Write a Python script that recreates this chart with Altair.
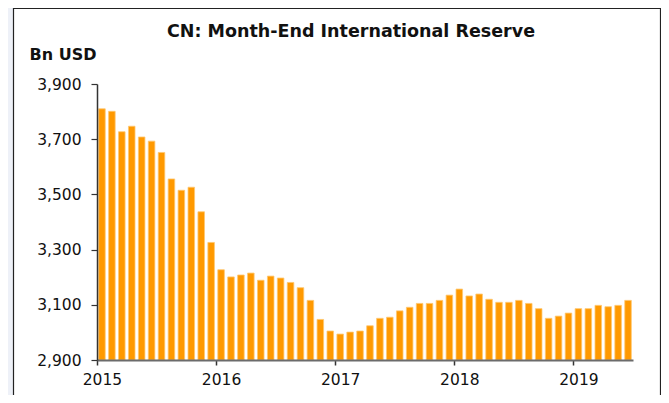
import altair as alt
import pandas as pd

years = [2015, 2016, 2017, 2018, 2019]
months = [f"{y}-{m:02d}" for y in years for m in range(1, 13)][:54]
values = [3810, 3801, 3727, 3747, 3708, 3693, 3652, 3556, 3515, 3526, 3437, 3326,
          3227, 3201, 3208, 3215, 3189, 3204, 3197, 3181, 3162, 3116, 3047, 3005,
          2994, 3001, 3005, 3024, 3051, 3055, 3078, 3091, 3105, 3105, 3116, 3135,
          3157, 3132, 3139, 3120, 3109, 3109, 3116, 3105, 3086, 3051, 3059, 3070,
          3086, 3086, 3098, 3093, 3098, 3116]
y_ticks = [2900, 3100, 3300, 3500, 3700, 3900]
year_ticks = [f"{y}-01" for y in years]
title_text = "CN: Month-End International Reserve"
unit_text = "Bn USD"

W, H = 536, 276
step = W / len(months)
FONT = "DejaVu Sans"

df = pd.DataFrame({"month": months, "value": values})

frame = alt.Chart(pd.DataFrame({"a": [0]})).mark_rect(
    fill="white", stroke="#222222", strokeWidth=1.2
).encode(
    x=alt.value(-83.5), x2=alt.value(563.5),
    y=alt.value(-75.5), y2=alt.value(330)
)

bars = alt.Chart(df).mark_bar(
    color="#FF9900", stroke="#FFC870", strokeWidth=0.8
).encode(
    x=alt.X("month:O",
            scale=alt.Scale(paddingInner=0.34, paddingOuter=0.17),
            axis=alt.Axis(values=year_ticks, labelExpr="slice(datum.value, 0, 4)",
                          title=None, labelAngle=0, bandPosition=0.5,
                          tickOffset=-step / 2, labelOffset=step / 2,
                          domainColor="#6b6b6b", domainWidth=2,
                          tickColor="#333333", tickWidth=1.5, tickSize=5,
                          labelFont=FONT, labelFontSize=15.5, labelColor="#111111",
                          labelPadding=7, zindex=2)),
    y=alt.Y("value:Q",
            scale=alt.Scale(domain=[2900, 3900], zero=False, nice=False),
            axis=alt.Axis(values=y_ticks, labelExpr="format(datum.value, ',.0f')",
                          grid=False,
                          title=unit_text, titleAngle=0, titleX=-68, titleY=-25,
                          titleAlign="left", titleBaseline="alphabetic",
                          titleFont=FONT, titleFontSize=16, titleFontWeight="bold",
                          titleColor="#111111",
                          domainColor="#333333", domainWidth=1.5,
                          tickColor="#333333", tickWidth=1.2, tickSize=6,
                          labelFont=FONT, labelFontSize=15.5, labelColor="#111111",
                          labelPadding=10, zindex=2)),
    y2=alt.datum(2900)
)

title = alt.Chart(pd.DataFrame({"t": [title_text]})).mark_text(
    font=FONT, fontSize=17.5, fontWeight="bold", color="#111111",
    align="center", baseline="alphabetic"
).encode(x=alt.value(254), y=alt.value(-47.3), text="t:N")

chart = alt.layer(frame, bars, title).properties(
    width=W, height=H,
    autosize=alt.AutoSizeParams(type="none"),
    padding={"left": 89, "top": 76, "right": 28, "bottom": 35},
    background="#eef1f8"
).configure_view(stroke=None)

chart.save("out.html", embed_options={"renderer": "svg", "actions": False})
